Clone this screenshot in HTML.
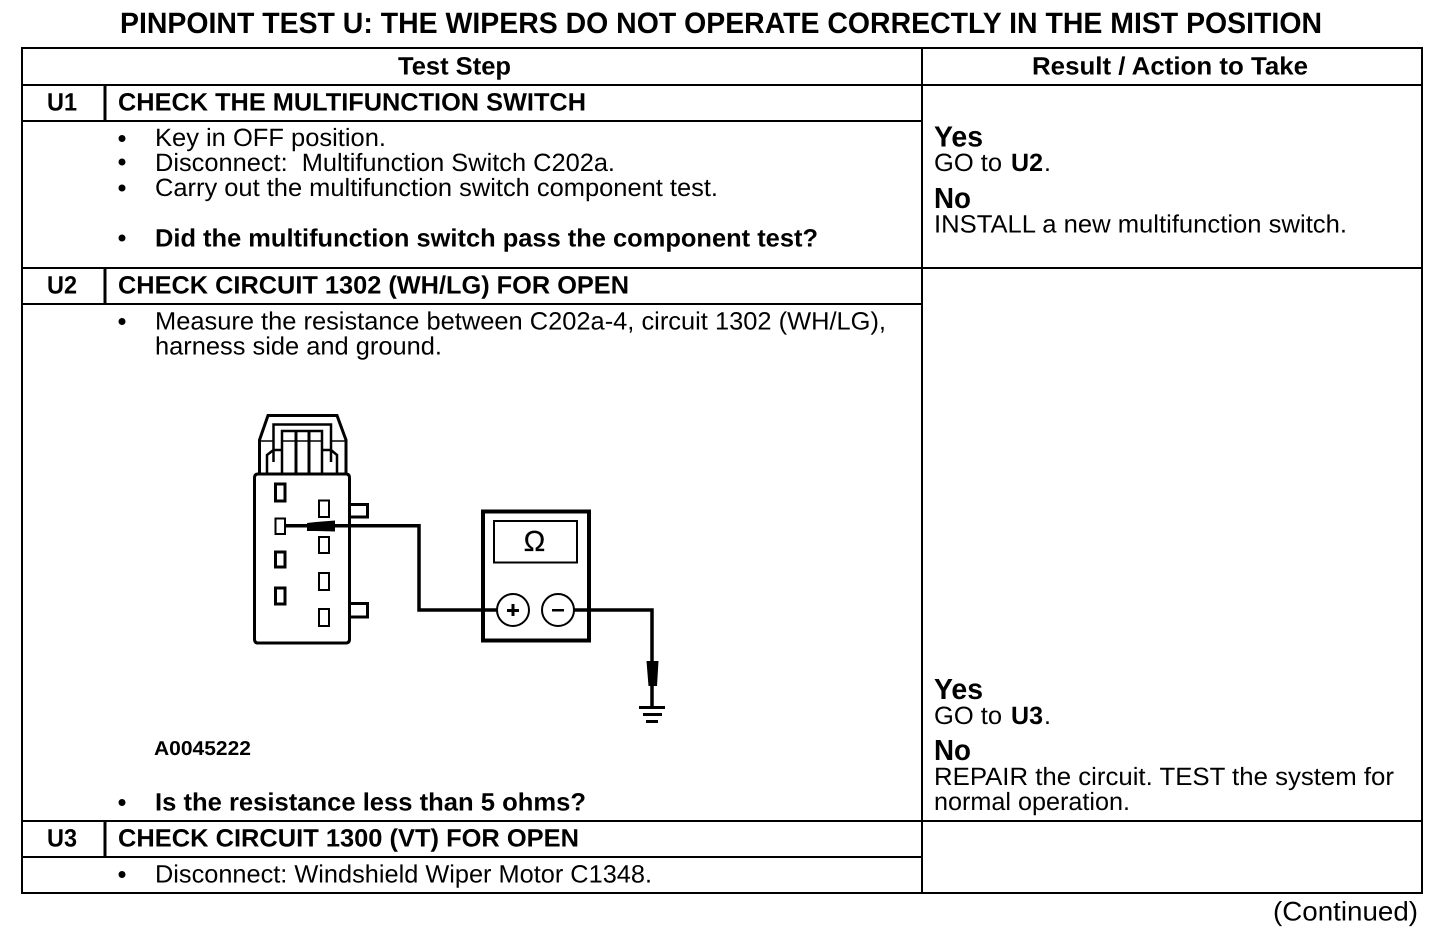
<!DOCTYPE html>
<html><head><meta charset="utf-8"><style>
html,body{margin:0;padding:0;background:#fff}
svg{display:block}
text{font-family:"Liberation Sans",sans-serif;fill:#000;font-size:25px;text-rendering:geometricPrecision}
.b{font-weight:bold}
.h{font-weight:bold;font-size:29.5px}
.y{font-weight:bold;font-size:29px}
</style></head><body>
<svg width="1456" height="938" viewBox="0 0 1456 938" xmlns="http://www.w3.org/2000/svg">
<rect width="1456" height="938" fill="#fff"/>
<g stroke="#000" stroke-width="2" fill="none" shape-rendering="crispEdges">
<rect x="22" y="48" width="1400" height="845"/>
<path d="M922 48V893M22 85H1422M22 268H1422M22 821H1422M22 121H922M22 304H922M22 857H922"/>
<path d="M105 85V121M105 268V304M105 821V857" stroke-width="3"/>
</g>
<text class="h" x="120" y="33" textLength="1202" lengthAdjust="spacingAndGlyphs">PINPOINT TEST U: THE WIPERS DO NOT OPERATE CORRECTLY IN THE MIST POSITION</text>
<text class="b" x="398" y="74.500" textLength="113" lengthAdjust="spacingAndGlyphs">Test Step</text>
<text class="b" x="1032" y="74.500" textLength="276" lengthAdjust="spacingAndGlyphs">Result / Action to Take</text>

<text class="b" x="47" y="110.500" textLength="30" lengthAdjust="spacingAndGlyphs">U1</text>
<text class="b" x="118" y="110.500" textLength="468" lengthAdjust="spacingAndGlyphs">CHECK THE MULTIFUNCTION SWITCH</text>
<g fill="#000"><circle cx="122" cy="138.500" r="3.500"/><circle cx="122" cy="162" r="3.500"/><circle cx="122" cy="188" r="3.500"/><circle cx="122" cy="238" r="3.500"/><circle cx="122" cy="321.500" r="3.500"/><circle cx="122" cy="802.500" r="3.500"/><circle cx="122" cy="874.500" r="3.500"/></g>
<text x="155" y="146" textLength="231" lengthAdjust="spacingAndGlyphs">Key in OFF position.</text>
<text x="155" y="171" textLength="460" lengthAdjust="spacingAndGlyphs">Disconnect:&#160; Multifunction Switch C202a.</text>
<text x="155" y="196" textLength="563" lengthAdjust="spacingAndGlyphs">Carry out the multifunction switch component test.</text>
<text class="b" x="155" y="246.500" textLength="663" lengthAdjust="spacingAndGlyphs">Did the multifunction switch pass the component test?</text>

<text class="b" x="47" y="293.500" textLength="30" lengthAdjust="spacingAndGlyphs">U2</text>
<text class="b" x="118" y="293.500" textLength="511" lengthAdjust="spacingAndGlyphs">CHECK CIRCUIT 1302 (WH/LG) FOR OPEN</text>
<text x="155" y="329.500" textLength="731" lengthAdjust="spacingAndGlyphs">Measure the resistance between C202a-4, circuit 1302 (WH/LG),</text>
<text x="155" y="354.500" textLength="287" lengthAdjust="spacingAndGlyphs">harness side and ground.</text>
<text class="b" x="154" y="755" style="font-size:20px" textLength="97" lengthAdjust="spacingAndGlyphs">A0045222</text>
<text class="b" x="155" y="810.500" textLength="431" lengthAdjust="spacingAndGlyphs">Is the resistance less than 5 ohms?</text>

<text class="b" x="47" y="846.500" textLength="30" lengthAdjust="spacingAndGlyphs">U3</text>
<text class="b" x="118" y="846.500" textLength="461" lengthAdjust="spacingAndGlyphs">CHECK CIRCUIT 1300 (VT) FOR OPEN</text>
<text x="155" y="882.500" textLength="497" lengthAdjust="spacingAndGlyphs">Disconnect: Windshield Wiper Motor C1348.</text>

<text class="y" x="934" y="146.500" textLength="49" lengthAdjust="spacingAndGlyphs">Yes</text>
<text x="934" y="171" textLength="68" lengthAdjust="spacingAndGlyphs">GO to</text>
<text class="b" x="1011" y="171" textLength="32" lengthAdjust="spacingAndGlyphs">U2</text>
<text x="1044" y="171">.</text>
<text class="y" x="934" y="208" textLength="37" lengthAdjust="spacingAndGlyphs">No</text>
<text x="934" y="232.500" textLength="413" lengthAdjust="spacingAndGlyphs">INSTALL a new multifunction switch.</text>

<text class="y" x="934" y="699" textLength="49" lengthAdjust="spacingAndGlyphs">Yes</text>
<text x="934" y="724" textLength="68" lengthAdjust="spacingAndGlyphs">GO to</text>
<text class="b" x="1011" y="724" textLength="32" lengthAdjust="spacingAndGlyphs">U3</text>
<text x="1044" y="724">.</text>
<text class="y" x="934" y="760" textLength="37" lengthAdjust="spacingAndGlyphs">No</text>
<text x="934" y="785" textLength="460" lengthAdjust="spacingAndGlyphs">REPAIR the circuit. TEST the system for</text>
<text x="934" y="810" textLength="196" lengthAdjust="spacingAndGlyphs">normal operation.</text>
<text x="1273" y="920.500" style="font-size:27px" textLength="145" lengthAdjust="spacingAndGlyphs">(Continued)</text>

<g fill="none" stroke="#000" stroke-width="2.5">
<path d="M254.500 478Q254.500 474 258 474H346Q349.500 474 349.500 478V639Q349.500 643 346 643H258Q254.500 643 254.500 639Z" stroke-width="3"/>
<path d="M259.500 474V440L268 415.500H337L346 440V474" stroke-width="3"/>
<path d="M273.500 462V424.500H331V462"/>
<path d="M267 473V455L273.500 450H282M337 473V455L331 450H322"/>
<path d="M282 473V431H322V473"/>
<path d="M296 474V431M309 474V431" stroke-width="3"/>
<path d="M282 441H322M259 441H273M331 441H346" stroke-width="1.500"/>
<path d="M275.500 484H285V501H275.500ZM275.500 552H285V567H275.500ZM275.500 588H285V604H275.500Z" stroke-width="3"/>
<path d="M275.500 518.500H285V534H275.500Z" stroke-width="2"/>
<path d="M319 500.500H329V517H319ZM319 537H329V553H319ZM319 573H329V590H319ZM319 609H329V626H319Z" stroke-width="2"/>
<path d="M350 504.500H367.500V517H350M350 603.500H367.500V617H350" stroke-width="3"/>
<path d="M286 525.700H419V610H497" stroke-width="3.500"/>
<rect x="483" y="511.500" width="106" height="129" stroke-width="4"/>
<rect x="494" y="521" width="83" height="41.500" stroke-width="2"/>
<circle cx="513" cy="610" r="16" fill="#fff" stroke-width="2"/>
<circle cx="558" cy="610" r="16" fill="#fff" stroke-width="2"/>
<path d="M574 610H652V708" stroke-width="3.500"/>
</g>
<path d="M307 523L316 522L335 520.500V531.500L316 531H307Z" fill="#000"/>
<path d="M646.500 661H658.500L657 686H648.500Z" fill="#000"/>
<g fill="#000">
<rect x="639" y="706" width="26" height="3"/><rect x="643" y="713" width="19" height="3"/><rect x="646" y="720" width="12" height="3"/>
<rect x="507" y="609" width="12" height="3"/><rect x="511.500" y="604" width="3" height="12"/><rect x="552" y="609" width="12" height="2.500"/>
</g>
<text x="534.500" y="551" text-anchor="middle" style="font-size:29px" stroke="#000" stroke-width="0.2">Ω</text>
</svg>
</body></html>
